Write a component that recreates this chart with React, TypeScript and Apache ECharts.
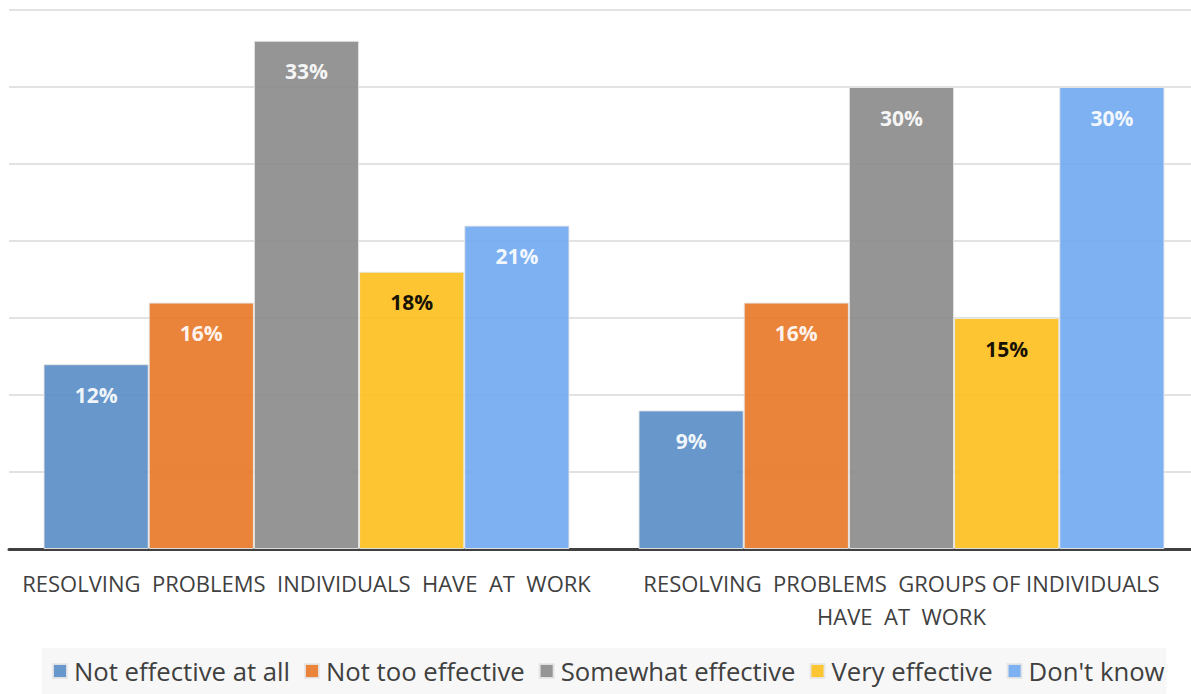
import React, { useEffect, useRef } from "react";
import * as echarts from "echarts";

const categories = [
  "RESOLVING  PROBLEMS  INDIVIDUALS  HAVE  AT  WORK",
  "RESOLVING  PROBLEMS  GROUPS OF INDIVIDUALS\nHAVE  AT  WORK",
];
const seriesNames = [
  "Not effective at all",
  "Not too effective",
  "Somewhat effective",
  "Very effective",
  "Don't know",
];
const notEffective = [12, 9];
const notTooEffective = [16, 16];
const somewhatEffective = [33, 30];
const veryEffective = [18, 15];
const dontKnow = [21, 30];
const colors = ["#5b8ec7", "#e9792a", "#8c8c8c", "#fcc020", "#72aaf0"];
const labelColors = ["#ffffff", "#ffffff", "#ffffff", "#000000", "#ffffff"];

export default function App() {
  const ref = useRef<HTMLDivElement>(null);
  useEffect(() => {
    if (!ref.current) return;
    const chart = echarts.init(ref.current, undefined, { renderer: "svg" });
    const values = [notEffective, notTooEffective, somewhatEffective, veryEffective, dontKnow];
    chart.setOption({
      animation: false,
      grid: { left: 9, right: 0, top: 10, bottom: 145, containLabel: false },
      legend: {
        bottom: 0,
        left: 42,
        data: seriesNames,
        itemWidth: 14,
        itemHeight: 14,
        itemGap: 14,
        icon: "rect",
        padding: [10, 2, 10, 10],
        backgroundColor: "#f7f7f7",
        textStyle: { fontFamily: "Open Sans", fontSize: 25.7, color: "#404040", padding: [0, 0, 0, 2] },
      },
      xAxis: {
        type: "category",
        data: categories,
        axisLine: { lineStyle: { color: "#404040", width: 3 } },
        axisTick: { show: false },
        axisLabel: {
          margin: 17,
          fontFamily: "Open Sans",
          fontSize: 22,
          color: "#404040",
          lineHeight: 33,
          interval: 0,
        },
      },
      yAxis: {
        type: "value",
        min: 0,
        max: 35,
        interval: 5,
        axisLabel: { show: false },
        axisLine: { show: false },
        axisTick: { show: false },
        splitLine: { lineStyle: { color: "#d9d9d9", width: 1.5 } },
      },
      series: seriesNames.map((name, i) => ({
        name,
        type: "bar",
        data: values[i],
        barGap: "0%",
        barCategoryGap: "11.6%",
        itemStyle: { color: colors[i], opacity: 0.92, borderColor: "#e6e6e6", borderWidth: 1 },
        label: {
          show: true,
          position: "insideTop",
          distance: 20,
          formatter: "{c}%",
          fontFamily: "Open Sans",
          fontWeight: "bold",
          fontSize: 21,
          color: labelColors[i],
        },
      })),
    });
    return () => chart.dispose();
  }, []);
  return (
    <div style={{ width: 1191, height: 694, position: "absolute", left: 0, top: 0, overflow: "hidden" }}>
      <div ref={ref} style={{ width: 1199, height: 694 }} />
    </div>
  );
}
